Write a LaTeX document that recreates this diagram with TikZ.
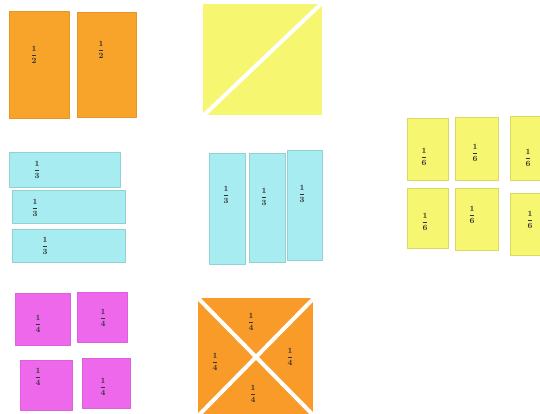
\documentclass[tikz,border=0pt]{standalone}
\usepackage{amsmath}
\usepackage{tikz}
\usetikzlibrary{calc}
\definecolor{paperorange}{RGB}{248,163,42}
\definecolor{paperyellow}{RGB}{247,246,112}
\definecolor{papercyan}{RGB}{166,236,240}
\definecolor{paperpink}{RGB}{238,104,236}

\begin{document}
\begin{tikzpicture}[
    x=1pt, y=-1pt,
    piece/.style  = {line width=0.3pt, line join=round},
    halfp/.style  = {piece, fill=paperorange, draw=paperorange!92!black},
    thirdp/.style = {piece, fill=papercyan,   draw=papercyan!88!black},
    quartp/.style = {piece, fill=paperpink,   draw=paperpink!92!black},
    sixthp/.style = {piece, fill=paperyellow, draw=paperyellow!88!black},
    cut/.style    = {white, line width=4pt},
    frac/.style   = {font=\footnotesize\boldmath, inner sep=0pt, text=black!80},
]
\useasboundingbox (0,0) rectangle (540,414);

% ---- halves (two strips) ----
\filldraw[halfp] (9,11) rectangle (69,118);
\filldraw[halfp] (77,12) rectangle (136,117);
\node[frac] (h1) at (34,55) {$\dfrac{1}{2}$};
\node[frac] (h2) at (101,50) {$\dfrac{1}{2}$};

% ---- halves (square cut on the diagonal) ----
\fill[paperyellow] (203,4) rectangle (322,115);
\draw[cut] (203,116) -- (322,3);

% ---- thirds, lying ----
\filldraw[thirdp] (9,152) rectangle (120,187);
\filldraw[thirdp] (12,190) rectangle (125,223);
\filldraw[thirdp] (12,229) rectangle (125,262);
\node[frac] (tl1) at (37,170) {$\dfrac{1}{3}$};
\node[frac] (tl2) at (35,208) {$\dfrac{1}{3}$};
\node[frac] (tl3) at (45,246) {$\dfrac{1}{3}$};

% ---- thirds, standing ----
\filldraw[thirdp] (209,153) rectangle (245,264);
\filldraw[thirdp] (249,153) rectangle (285,262);
\filldraw[thirdp] (287,150) rectangle (322,260);
\node[frac] (ts1) at (226,195) {$\dfrac{1}{3}$};
\node[frac] (ts2) at (264,197) {$\dfrac{1}{3}$};
\node[frac] (ts3) at (302,194) {$\dfrac{1}{3}$};

% ---- sixths ----
\filldraw[sixthp] (407,118) rectangle (448,180);
\filldraw[sixthp] (455,117) rectangle (498,180);
\filldraw[sixthp] (510,116) rectangle (545,180);
\filldraw[sixthp] (407,188) rectangle (448,248);
\filldraw[sixthp] (455,188) rectangle (498,250);
\filldraw[sixthp] (510,193) rectangle (545,255);
\node[frac] (s1) at (424,157) {$\dfrac{1}{6}$};
\node[frac] (s2) at (475,153) {$\dfrac{1}{6}$};
\node[frac] (s3) at (528,158) {$\dfrac{1}{6}$};
\node[frac] (s4) at (425,222) {$\dfrac{1}{6}$};
\node[frac] (s5) at (472,215) {$\dfrac{1}{6}$};
\node[frac] (s6) at (530,220) {$\dfrac{1}{6}$};

% ---- quarters (four squares) ----
\filldraw[quartp] (15,293) rectangle (70,345);
\filldraw[quartp] (77,292) rectangle (127,342);
\filldraw[quartp] (20,360) rectangle (72,410);
\filldraw[quartp] (82,358) rectangle (130,408);
\node[frac] (q1) at (38,324) {$\dfrac{1}{4}$};
\node[frac] (q2) at (103,318) {$\dfrac{1}{4}$};
\node[frac] (q3) at (38,377) {$\dfrac{1}{4}$};
\node[frac] (q4) at (103,387) {$\dfrac{1}{4}$};

% ---- quarters (square cut on both diagonals) ----
\fill[paperorange!95!red] (198,298) rectangle (313,414);
\begin{scope}
  \clip (198,298) rectangle (313,414);
  \draw[cut] (196,296) -- (316,418);
  \draw[cut] (196,418) -- (316,296);
\end{scope}
\node[frac] (o1) at (251,322) {$\dfrac{1}{4}$};
\node[frac] (o2) at (215,362) {$\dfrac{1}{4}$};
\node[frac] (o3) at (290,357) {$\dfrac{1}{4}$};
\node[frac] (o4) at (253,394) {$\dfrac{1}{4}$};

\end{tikzpicture}
\end{document}
